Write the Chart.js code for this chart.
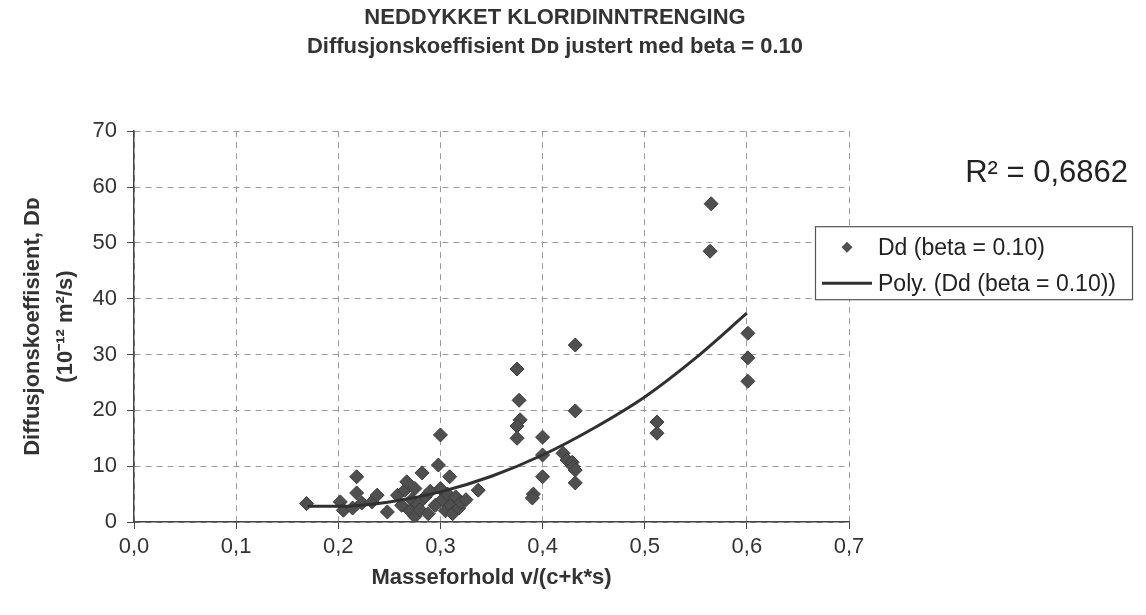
<!DOCTYPE html>
<html>
<head>
<meta charset="utf-8">
<script src="https://cdn.jsdelivr.net/npm/chart.js@4.4.1/dist/chart.umd.min.js"></script>
<style>
html,body{margin:0;padding:0;background:#fff;}
</style>
</head>
<body>
<canvas id="myChart" width="1146" height="615"></canvas>
<script>
var fonte = "'Liberation Sans', Arial, sans-serif";

var tittel = ['NEDDYKKET KLORIDINNTRENGING', 'Diffusjonskoeffisient D\u1D05 justert med beta = 0.10'];
var yTittel = ['Diffusjonskoeffisient, D\u1D05', '(10\u207B\u00B9\u00B2 m\u00B2/s)'];
var xTittel = 'Masseforhold v/(c+k*s)';
var xEtiketter = ['0,0','0,1','0,2','0,3','0,4','0,5','0,6','0,7'];
var r2Tekst = 'R\u00B2 = 0,6862';
var seriePunkter = 'Dd (beta = 0.10)';
var serieTrend = 'Poly. (Dd (beta = 0.10))';

// maalte punkter: masseforhold og Dd
var ddX = [0.169,0.202,0.205,0.214,0.218,0.218,0.223,0.233,0.238,0.248,
           0.258,0.265,0.267,0.262,0.270,0.272,0.275,0.275,0.278,0.280,
           0.282,0.285,0.288,0.290,0.295,0.298,0.300,0.300,0.302,0.305,
           0.307,0.309,0.310,0.312,0.315,0.318,0.320,0.325,0.337,
           0.375,0.377,0.378,0.375,0.375,0.391,0.390,0.400,0.400,0.400,
           0.420,0.424,0.429,0.430,0.432,0.432,0.432,0.432,
           0.512,0.512,0.565,0.564,0.601,0.601,0.601];
var ddY = [3.3,3.6,2.1,2.5,8.1,5.2,3.4,3.6,4.8,1.8,
           4.8,5.7,7.2,3.0,2.0,4.0,1.0,6.0,3.2,2.2,
           8.8,4.5,1.5,5.5,3.0,10.2,15.6,6.0,4.0,2.0,
           5.0,8.1,3.0,1.5,4.5,2.5,3.5,4.0,5.7,
           27.4,21.8,18.3,17.2,15.0,5.0,4.3,15.2,12.0,8.1,
           12.3,11.1,10.7,9.9,9.3,7.0,19.9,31.7,
           17.9,15.9,57.0,48.5,33.8,29.4,25.2];

// trendlinje (2. grads polynom)
var trendX = [0.17,0.20,0.25,0.30,0.35,0.40,0.45,0.50,0.55,0.60];
var trendY = [2.8,2.8,3.6,5.4,8.2,12.0,16.8,22.4,29.4,37.4];

var punkter = [];
for (var i = 0; i < ddX.length; i++) punkter.push({x: ddX[i], y: ddY[i]});
var trend = [];
for (var j = 0; j < trendX.length; j++) trend.push({x: trendX[j], y: trendY[j]});

var hvitBakgrunn = {
  id: 'hvitBakgrunn',
  beforeDraw: function(chart) {
    var ctx = chart.ctx;
    ctx.save();
    ctx.fillStyle = '#fff';
    ctx.fillRect(0, 0, chart.width, chart.height);
    ctx.restore();
  }
};

// legende med ramme + R2-tekst, tegnet ved siden av plottet
var boksLegende = {
  id: 'boksLegende',
  afterDraw: function(chart) {
    var ctx = chart.ctx, a = chart.chartArea;
    var ds = chart.data.datasets;
    var x0 = a.right - 34, y0 = a.top + 95, w = 317, h = 73;
    ctx.save();
    ctx.fillStyle = '#fff';
    ctx.fillRect(x0, y0, w, h);
    ctx.strokeStyle = '#555';
    ctx.lineWidth = 1.2;
    ctx.strokeRect(x0 + 0.5, y0 + 0.5, w, h);

    // rad 1: rombe
    var cx = x0 + 32, cy = y0 + 21, r = 5.5;
    ctx.beginPath();
    ctx.moveTo(cx, cy - r); ctx.lineTo(cx + r, cy); ctx.lineTo(cx, cy + r); ctx.lineTo(cx - r, cy);
    ctx.closePath();
    ctx.fillStyle = ds[1].backgroundColor;
    ctx.fill();
    // rad 2: linje
    ctx.beginPath();
    ctx.moveTo(x0 + 7, y0 + 57);
    ctx.lineTo(x0 + 57, y0 + 57);
    ctx.strokeStyle = ds[0].borderColor;
    ctx.lineWidth = 3;
    ctx.stroke();

    ctx.fillStyle = '#222';
    ctx.font = '23px ' + fonte;
    ctx.textBaseline = 'middle';
    ctx.textAlign = 'left';
    ctx.fillText(ds[1].label, x0 + 63, y0 + 22);
    ctx.fillText(ds[0].label, x0 + 63, y0 + 58);

    ctx.font = '31px ' + fonte;
    ctx.textAlign = 'right';
    ctx.fillText(r2Tekst, chart.width - 18, a.top + 42);
    ctx.restore();
  }
};

var datos = {
  datasets: [
    {
      type: 'line',
      label: serieTrend,
      data: trend,
      borderColor: '#303030',
      backgroundColor: '#303030',
      borderWidth: 3,
      pointRadius: 0,
      fill: false,
      cubicInterpolationMode: 'monotone'
    },
    {
      type: 'scatter',
      label: seriePunkter,
      data: punkter,
      pointStyle: 'rectRot',
      pointRadius: 7,
      backgroundColor: '#4f4f4f',
      borderColor: '#3c3c3c',
      borderWidth: 1
    }
  ]
};

var opciones = {
  responsive: false,
  animation: false,
  layout: { padding: { left: 0, right: 36, top: 0, bottom: 0 } },
  plugins: {
    legend: { display: false },
    tooltip: { enabled: false },
    title: {
      display: true,
      text: tittel,
      color: '#333',
      font: { family: fonte, size: 22, weight: 'bold', lineHeight: 1.3 },
      padding: { top: 4, bottom: 70 }
    }
  },
  scales: {
    x: {
      type: 'linear',
      min: 0, max: 0.7,
      afterFit: function(s) { s.height = 93; },
      ticks: {
        stepSize: 0.1,
        color: '#333',
        padding: 5,
        font: { family: fonte, size: 22 },
        callback: function(v, idx) { return xEtiketter[idx]; }
      },
      grid: { color: '#9a9a9a', lineWidth: 1, tickLength: 7, tickColor: '#444' },
      border: { display: true, color: '#444', width: 1.5, dash: [6, 5] },
      title: {
        display: true,
        text: xTittel,
        color: '#333',
        font: { family: fonte, size: 22, weight: 'bold', lineHeight: 1.2 },
        padding: { top: 0, bottom: 24 }
      }
    },
    y: {
      type: 'linear',
      min: 0, max: 70,
      afterFit: function(s) { s.width = 134; },
      ticks: {
        stepSize: 10,
        color: '#333',
        padding: 10,
        font: { family: fonte, size: 22 }
      },
      grid: { color: '#9a9a9a', lineWidth: 1, tickLength: 7, tickColor: '#444' },
      border: { display: true, color: '#444', width: 1.5, dash: [6, 5] },
      title: {
        display: true,
        text: yTittel,
        color: '#333',
        font: { family: fonte, size: 22, weight: 'bold', lineHeight: 1.5 },
        padding: { top: 16, bottom: 0 }
      }
    },
    hoyre: {
      type: 'linear',
      position: 'right',
      display: true,
      afterFit: function(s) { s.width = 261; },
      ticks: { display: false },
      grid: { display: false },
      border: { display: false }
    }
  }
};

var myChart = new Chart(document.getElementById('myChart'), {
  data: datos,
  options: opciones,
  plugins: [hvitBakgrunn, boksLegende]
});
</script>
</body>
</html>
